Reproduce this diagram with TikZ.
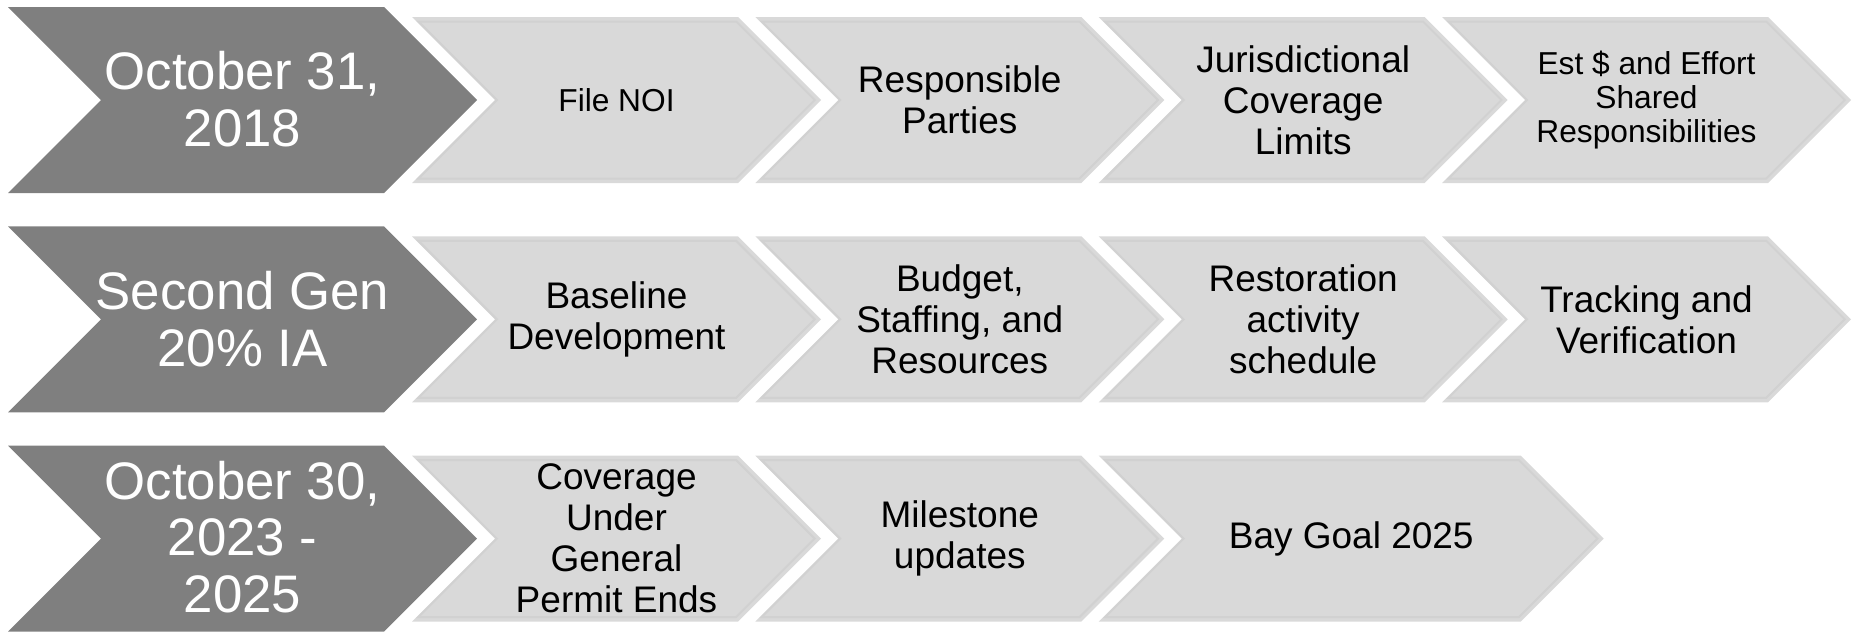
\documentclass[tikz,border=0pt]{standalone}
\usepackage{fontspec}
\setmainfont{Liberation Sans}
\definecolor{chevdark}{HTML}{7F7F7F}
\definecolor{chevlight}{HTML}{D9D9D9}
\definecolor{chevrim}{HTML}{D1D1D1}

% chevron pointing right: #1 = left x, #2 = centre y, #3 = full width, #4 = half height (45 degree tip)
\newcommand{\darkchevron}[4]{%
  \fill[chevdark] (#1,#2-#4) -- (#1+#3-#4,#2-#4) -- (#1+#3,#2) -- (#1+#3-#4,#2+#4)
    -- (#1,#2+#4) -- (#1+#4,#2) -- cycle;}
\newcommand{\lightchevron}[4]{%
  \fill[chevlight] (#1,#2-#4) -- (#1+#3-#4,#2-#4) -- (#1+#3,#2) -- (#1+#3-#4,#2+#4)
    -- (#1,#2+#4) -- (#1+#4,#2) -- cycle;
  \pgfmathsetmacro\ix{#1+6.4}\pgfmathsetmacro\iw{#3-12.7}\pgfmathsetmacro\ih{#4-4.5}%
  \draw[chevrim, line width=2, line join=miter] (\ix,#2-\ih) -- (\ix+\iw-\ih,#2-\ih) -- (\ix+\iw,#2)
    -- (\ix+\iw-\ih,#2+\ih) -- (\ix,#2+\ih) -- (\ix+\ih,#2) -- cycle;}

\begin{document}
\begin{tikzpicture}[x=1pt, y=-1pt,
  datetext/.style={text=white, align=center, inner sep=0pt, font=\fontsize{52.8}{56.5}\selectfont},
  steptext/.style={text=black, align=center, inner sep=0pt, font=\fontsize{37}{41}\selectfont},
  smalltext/.style={text=black, align=center, inner sep=0pt, font=\fontsize{31.7}{33.8}\selectfont}]
\useasboundingbox (0,0) rectangle (1861,632);

% row 1
\darkchevron{8}{100}{469}{93}
\lightchevron{412}{100}{409}{83}
\lightchevron{755.3}{100}{409}{83}
\lightchevron{1098.7}{100}{409}{83}
\lightchevron{1442}{100}{409}{83}
\node[datetext]  (d1)  at (242.5,99)   {October 31,\\2018};
\node[smalltext] (a1)  at (616.5,100)  {File NOI};
\node[steptext]  (a2)  at (959.8,100)  {Responsible\\Parties};
\node[steptext]  (a3)  at (1303.2,100) {Jurisdictional\\Coverage\\Limits};
\node[smalltext] (a4)  at (1646.5,100) {Est \$ and Effort\\Shared\\Responsibilities};

% row 2
\darkchevron{8}{319.3}{469}{93}
\lightchevron{412}{319.3}{409}{83}
\lightchevron{755.3}{319.3}{409}{83}
\lightchevron{1098.7}{319.3}{409}{83}
\lightchevron{1442}{319.3}{409}{83}
\node[datetext] (d2) at (242.5,319)    {Second Gen\\20\% IA};
\node[steptext] (b1) at (616.5,319.3)  {Baseline\\Development};
\node[steptext] (b2) at (959.8,319.3)  {Budget,\\Staffing, and\\Resources};
\node[steptext] (b3) at (1303.2,319.3) {Restoration\\activity\\schedule};
\node[steptext] (b4) at (1646.5,319.3) {Tracking and\\Verification};

% row 3
\darkchevron{8}{538.6}{469}{93}
\lightchevron{412}{538.6}{409}{83}
\lightchevron{755.3}{538.6}{409}{83}
\lightchevron{1098.7}{538.6}{505}{83}
\node[datetext] (d3) at (242.5,537)    {October 30,\\2023 -\\2025};
\node[steptext] (c1) at (616.5,538.6)  {Coverage\\Under\\General\\Permit Ends};
\node[steptext] (c2) at (959.8,538.6)  {Milestone\\updates};
\node[steptext] (c3) at (1351.2,538.6) {Bay Goal 2025};
\end{tikzpicture}
\end{document}
